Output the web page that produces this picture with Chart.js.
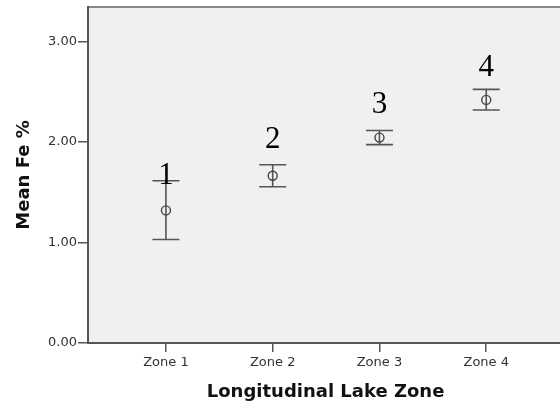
<!DOCTYPE html>
<html>
<head>
<meta charset="utf-8">
<script src="https://cdn.jsdelivr.net/npm/chart.js@4/dist/chart.umd.min.js"></script>
<style>
html, body { margin: 0; padding: 0; background: #fff; overflow: hidden; }
canvas { display: block; }
</style>
</head>
<body>
<canvas id="grafico-fe" width="569" height="411"></canvas>
<script>
// Datos
const zonas = ['Zone 1', 'Zone 2', 'Zone 3', 'Zone 4'];
const posZonas = [1, 2, 3, 4];
const mediaFe = [1.32, 1.665, 2.045, 2.42];
const limiteSup = [1.615, 1.775, 2.115, 2.525];
const limiteInf = [1.03, 1.555, 1.975, 2.32];
const etiquetas = ['1', '2', '3', '4'];
const etiquetaY = [1.585, 1.94, 2.29, 2.66];
const ticksY = [0, 1, 2, 3];

const fuenteTexto = "'DejaVu Sans', sans-serif";

// Fondo gris del área, barras de error y números
const pluginBarras = {
    id: 'pluginBarras',
    beforeDraw(chart) {
        const { ctx, chartArea: a } = chart;
        ctx.save();
        ctx.fillStyle = '#f0f0f0';
        ctx.fillRect(a.left, a.top, a.right - a.left, a.bottom - a.top);
        ctx.strokeStyle = '#888';
        ctx.lineWidth = 2;
        ctx.beginPath();
        ctx.moveTo(a.left, a.top);
        ctx.lineTo(a.right, a.top);
        ctx.stroke();
        ctx.restore();
    },
    beforeDatasetsDraw(chart) {
        const { ctx, scales: { x, y } } = chart;
        ctx.save();
        ctx.strokeStyle = '#555';
        ctx.lineWidth = 1.6;
        posZonas.forEach((p, i) => {
            const px = x.getPixelForValue(p);
            const yS = y.getPixelForValue(limiteSup[i]);
            const yI = y.getPixelForValue(limiteInf[i]);
            ctx.beginPath();
            ctx.moveTo(px, yS); ctx.lineTo(px, yI);
            ctx.moveTo(px - 13.5, yS); ctx.lineTo(px + 13.5, yS);
            ctx.moveTo(px - 13.5, yI); ctx.lineTo(px + 13.5, yI);
            ctx.stroke();
        });
        ctx.restore();
    },
    afterDatasetsDraw(chart) {
        const { ctx, scales: { x, y } } = chart;
        ctx.save();
        ctx.fillStyle = '#000';
        ctx.font = "31px 'Liberation Serif', serif";
        ctx.textAlign = 'center';
        ctx.textBaseline = 'alphabetic';
        posZonas.forEach((p, i) => {
            ctx.fillText(etiquetas[i], x.getPixelForValue(p), y.getPixelForValue(etiquetaY[i]));
        });
        ctx.restore();
    }
};

const ctx = document.getElementById('grafico-fe').getContext('2d');
new Chart(ctx, {
    type: 'scatter',
    data: {
        datasets: [{
            label: 'Mean Fe %',
            data: posZonas.map((p, i) => ({ x: p, y: mediaFe[i] })),
            pointRadius: 4.5,
            pointBorderWidth: 1.4,
            pointBorderColor: '#444',
            pointBackgroundColor: 'rgba(0,0,0,0)',
            showLine: false
        }]
    },
    options: {
        responsive: false,
        animation: false,
        layout: { padding: { top: 7, left: 0, right: 0, bottom: 0 } },
        plugins: { legend: { display: false }, tooltip: { enabled: false } },
        scales: {
            x: {
                type: 'linear',
                min: 0.27,
                max: 4.72,
                afterFit: s => { s.height = 68; s.paddingLeft = 0; s.paddingRight = 0; },
                afterBuildTicks: s => { s.ticks = posZonas.map(v => ({ value: v })); },
                ticks: {
                    callback: (v) => zonas[posZonas.indexOf(v)],
                    font: { family: fuenteTexto, size: 13 },
                    color: '#333',
                    padding: 3,
                    maxRotation: 0
                },
                grid: { drawOnChartArea: false, tickLength: 9, color: '#555', lineWidth: 1.5 },
                border: { color: '#555', width: 2 },
                title: {
                    display: true,
                    text: 'Longitudinal Lake Zone',
                    font: { family: fuenteTexto, size: 18, weight: 'bold' },
                    color: '#111',
                    padding: { top: 0, bottom: 8 }
                }
            },
            y: {
                min: 0,
                max: 3.345,
                afterFit: s => { s.width = 88; s.paddingTop = 0; s.paddingBottom = 0; },
                afterBuildTicks: s => { s.ticks = ticksY.map(v => ({ value: v })); },
                ticks: {
                    callback: (v) => v.toFixed(2),
                    font: { family: fuenteTexto, size: 13 },
                    color: '#333',
                    padding: 1
                },
                grid: { drawOnChartArea: false, tickLength: 10, color: '#555', lineWidth: 1.5 },
                border: { color: '#555', width: 2 },
                title: {
                    display: true,
                    text: 'Mean Fe %',
                    font: { family: fuenteTexto, size: 18, weight: 'bold' },
                    color: '#111',
                    padding: { top: 14, bottom: 0 }
                }
            }
        }
    },
    plugins: [pluginBarras]
});
</script>
</body>
</html>
